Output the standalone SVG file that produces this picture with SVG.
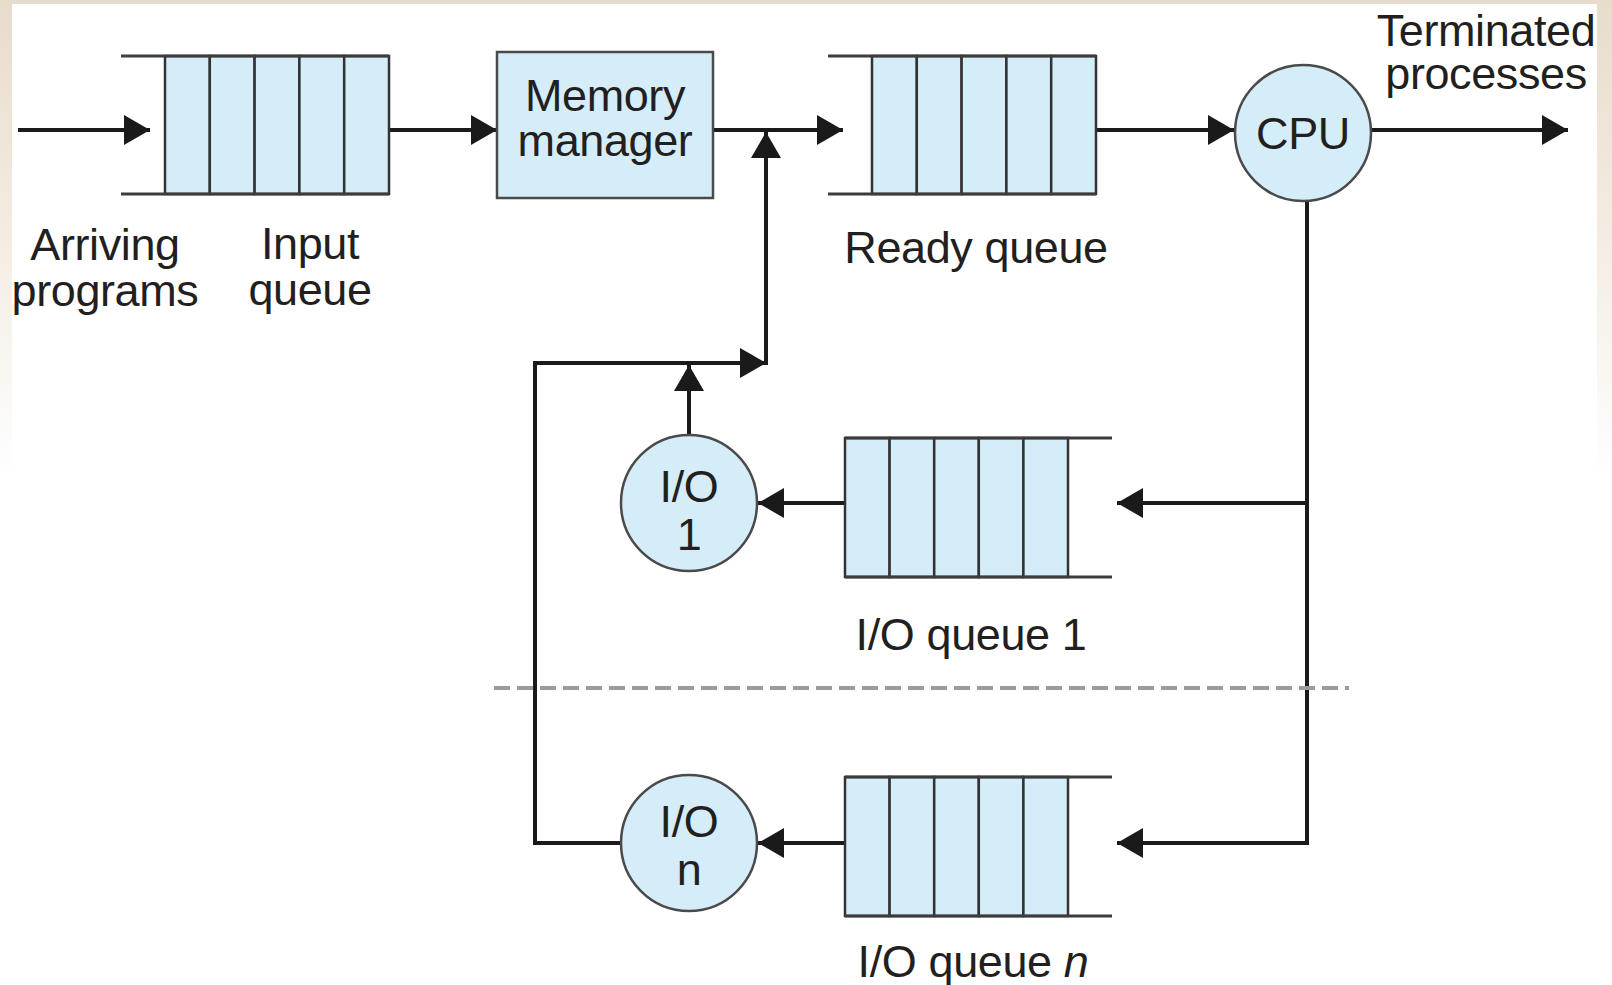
<svg xmlns="http://www.w3.org/2000/svg" width="1612" height="985" viewBox="0 0 1612 985">
  <defs>
    <linearGradient id="edgeL" x1="0" y1="0" x2="0" y2="1">
      <stop offset="0" stop-color="#e8dccb"/>
      <stop offset="0.6" stop-color="#f6f0e8"/>
      <stop offset="1" stop-color="#ffffff"/>
    </linearGradient>
    <marker id="arrow" markerUnits="userSpaceOnUse" markerWidth="28" markerHeight="30" refX="26" refY="15" orient="auto">
      <path d="M0,0 L26,15 L0,30 z" fill="#1a1a1a"/>
    </marker>
    <style>
      .txt { font-family: "Liberation Sans", Arial, Helvetica, sans-serif; font-size: 45px; letter-spacing: -0.4px; fill: #231f20; text-anchor: middle; }
      .conn { stroke: #1a1a1a; stroke-width: 4; fill: none; }
      .qline { stroke: #3c3c3c; stroke-width: 3; fill: none; }
      .cell { fill: #d5ecf9; stroke: #333333; stroke-width: 2.5; }
      .node { fill: #d5ecf9; stroke: #4a4a4a; stroke-width: 2.5; }
      .dash { stroke: #9b9b9b; stroke-width: 4; stroke-dasharray: 16 7; fill: none; }
    </style>
  </defs>

  <!-- background -->
  <rect x="0" y="0" width="1612" height="985" fill="#ffffff"/>
  <rect x="0" y="0" width="1612" height="4" fill="#e6dccd"/>
  <rect x="0" y="0" width="12" height="480" fill="url(#edgeL)"/>
  <rect x="1597" y="0" width="15" height="480" fill="url(#edgeL)"/>

  <!-- connectors -->
  <g id="connectors">
    <path class="conn" d="M18,130 H150" marker-end="url(#arrow)"/>
    <path class="conn" d="M389,130 H497" marker-end="url(#arrow)"/>
    <path class="conn" d="M713,130 H843" marker-end="url(#arrow)"/>
    <path class="conn" d="M1096,130 H1234" marker-end="url(#arrow)"/>
    <path class="conn" d="M1371,130 H1568" marker-end="url(#arrow)"/>
    <path class="conn" d="M766,365 V132" marker-end="url(#arrow)"/>
    <path class="conn" d="M621,843 H535 V363 H766" marker-end="url(#arrow)"/>
    <path class="conn" d="M689,436 V365" marker-end="url(#arrow)"/>
    <path class="conn" d="M845,503 H758" marker-end="url(#arrow)"/>
    <path class="conn" d="M845,843 H758" marker-end="url(#arrow)"/>
    <path class="conn" d="M1307,201 V843 H1117" marker-end="url(#arrow)"/>
    <path class="conn" d="M1307,503 H1117" marker-end="url(#arrow)"/>
    <path class="dash" d="M494,688 H1349"/>
  </g>

  <!-- input queue -->
  <g id="input-queue">
    <rect class="cell" x="165" y="56" width="44.8" height="138"/>
    <rect class="cell" x="209.8" y="56" width="44.8" height="138"/>
    <rect class="cell" x="254.6" y="56" width="44.8" height="138"/>
    <rect class="cell" x="299.4" y="56" width="44.8" height="138"/>
    <rect class="cell" x="344.2" y="56" width="44.8" height="138"/>
    <path class="qline" d="M121,56 H389 M121,194 H389"/>
  </g>

  <!-- memory manager -->
  <g id="memory-manager">
    <rect class="node" x="497" y="52" width="216" height="146" stroke-width="3"/>
    <text class="txt" x="605" y="111">Memory</text>
    <text class="txt" x="605" y="156">manager</text>
  </g>

  <!-- ready queue -->
  <g id="ready-queue">
    <rect class="cell" x="872" y="56" width="44.8" height="138"/>
    <rect class="cell" x="916.8" y="56" width="44.8" height="138"/>
    <rect class="cell" x="961.6" y="56" width="44.8" height="138"/>
    <rect class="cell" x="1006.4" y="56" width="44.8" height="138"/>
    <rect class="cell" x="1051.2" y="56" width="44.8" height="138"/>
    <path class="qline" d="M828,56 H1096 M828,194 H1096"/>
  </g>

  <!-- CPU -->
  <g id="cpu">
    <circle class="node" cx="1303" cy="133" r="68"/>
    <text class="txt" x="1303" y="149">CPU</text>
  </g>

  <!-- I/O queue 1 -->
  <g id="io-queue-1">
    <rect class="cell" x="845" y="438" width="44.6" height="139"/>
    <rect class="cell" x="889.6" y="438" width="44.6" height="139"/>
    <rect class="cell" x="934.2" y="438" width="44.6" height="139"/>
    <rect class="cell" x="978.8" y="438" width="44.6" height="139"/>
    <rect class="cell" x="1023.4" y="438" width="44.6" height="139"/>
    <path class="qline" d="M845,438 H1112 M845,577 H1112"/>
  </g>

  <!-- I/O 1 -->
  <g id="io-1">
    <circle class="node" cx="689" cy="503" r="68"/>
    <text class="txt" x="689" y="502">I/O</text>
    <text class="txt" x="689" y="550">1</text>
  </g>

  <!-- I/O queue n -->
  <g id="io-queue-n">
    <rect class="cell" x="845" y="777" width="44.6" height="139"/>
    <rect class="cell" x="889.6" y="777" width="44.6" height="139"/>
    <rect class="cell" x="934.2" y="777" width="44.6" height="139"/>
    <rect class="cell" x="978.8" y="777" width="44.6" height="139"/>
    <rect class="cell" x="1023.4" y="777" width="44.6" height="139"/>
    <path class="qline" d="M845,777 H1112 M845,916 H1112"/>
  </g>

  <!-- I/O n -->
  <g id="io-n">
    <circle class="node" cx="689" cy="843" r="68"/>
    <text class="txt" x="689" y="837">I/O</text>
    <text class="txt" x="689" y="885">n</text>
  </g>

  <!-- labels -->
  <g id="labels">
    <text class="txt" x="105" y="260">Arriving</text>
    <text class="txt" x="105" y="306">programs</text>
    <text class="txt" x="310" y="259">Input</text>
    <text class="txt" x="310" y="305">queue</text>
    <text class="txt" x="976" y="263">Ready queue</text>
    <text class="txt" x="1486" y="46">Terminated</text>
    <text class="txt" x="1486" y="89">processes</text>
    <text class="txt" x="971" y="650">I/O queue 1</text>
    <text class="txt" x="973" y="977">I/O queue <tspan font-style="italic">n</tspan></text>
  </g>
</svg>
